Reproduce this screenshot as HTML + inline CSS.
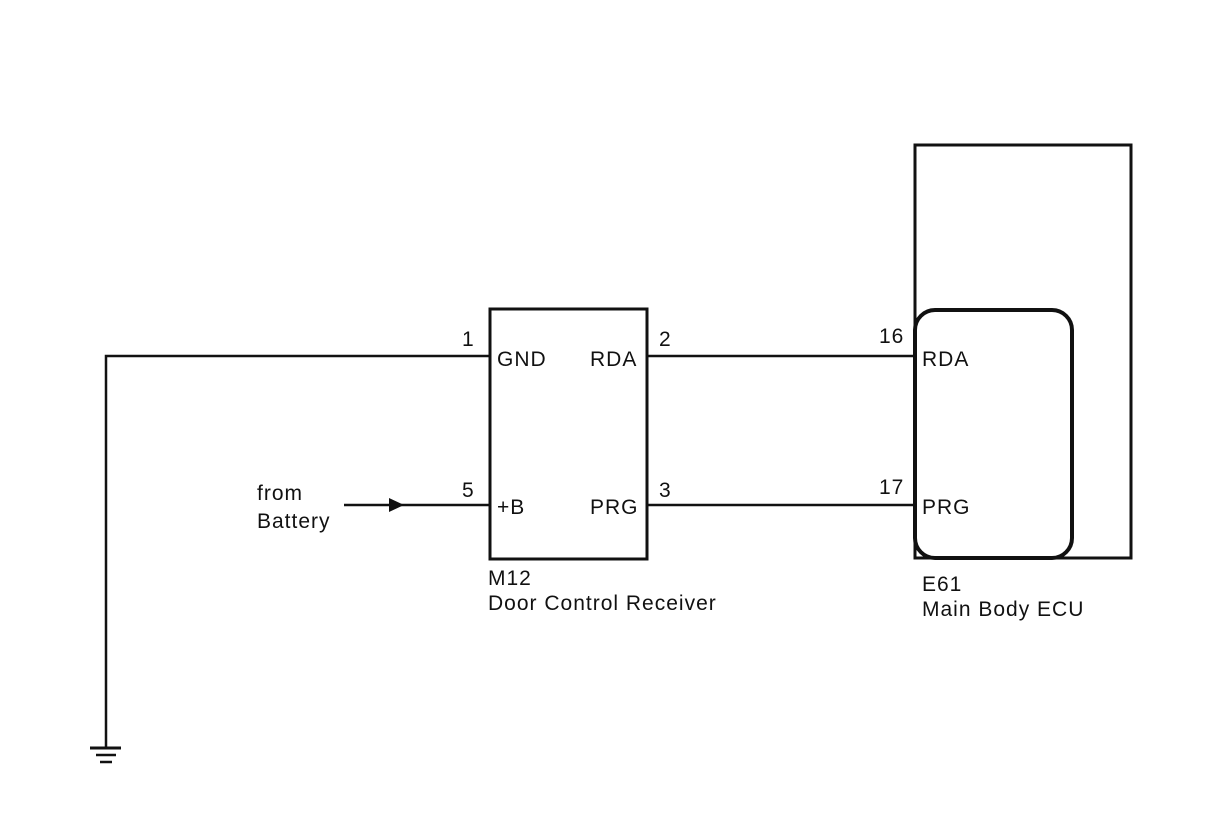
<!DOCTYPE html>
<html><head><style>body{margin:0;background:#fff}svg{display:block}text{font-family:"Liberation Sans",sans-serif;font-size:21px;letter-spacing:1px;fill:#111}</style></head><body>
<svg width="1210" height="814" viewBox="0 0 1210 814">
<g stroke="#111" fill="none">
<path d="M106 748V356H490" stroke-width="2.5"/>
<path d="M90 748H121" stroke-width="3"/>
<path d="M96 755H116" stroke-width="2.5"/>
<path d="M100 762H112" stroke-width="2.5"/>
<rect x="490" y="309" width="157" height="250" stroke-width="3"/>
<path d="M647 356H915M647 505H915M344 505H490" stroke-width="2.5"/>
<rect x="915" y="145" width="216" height="413" stroke-width="3"/>
<rect x="915" y="310" width="157" height="248" rx="20" stroke-width="4"/>
</g>
<path d="M389 498L404 505L389 512Z" fill="#111"/>
<text x="462" y="346">1</text>
<text x="497" y="366">GND</text>
<text x="590" y="366">RDA</text>
<text x="659" y="346">2</text>
<text x="462" y="497">5</text>
<text x="497" y="514">+B</text>
<text x="590" y="514">PRG</text>
<text x="659" y="497">3</text>
<text x="488" y="585">M12</text>
<text x="488" y="610">Door Control Receiver</text>
<text x="879" y="343">16</text>
<text x="922" y="366">RDA</text>
<text x="879" y="494">17</text>
<text x="922" y="514">PRG</text>
<text x="922" y="591">E61</text>
<text x="922" y="616">Main Body ECU</text>
<text x="257" y="500">from</text>
<text x="257" y="528">Battery</text>
</svg>
</body></html>
